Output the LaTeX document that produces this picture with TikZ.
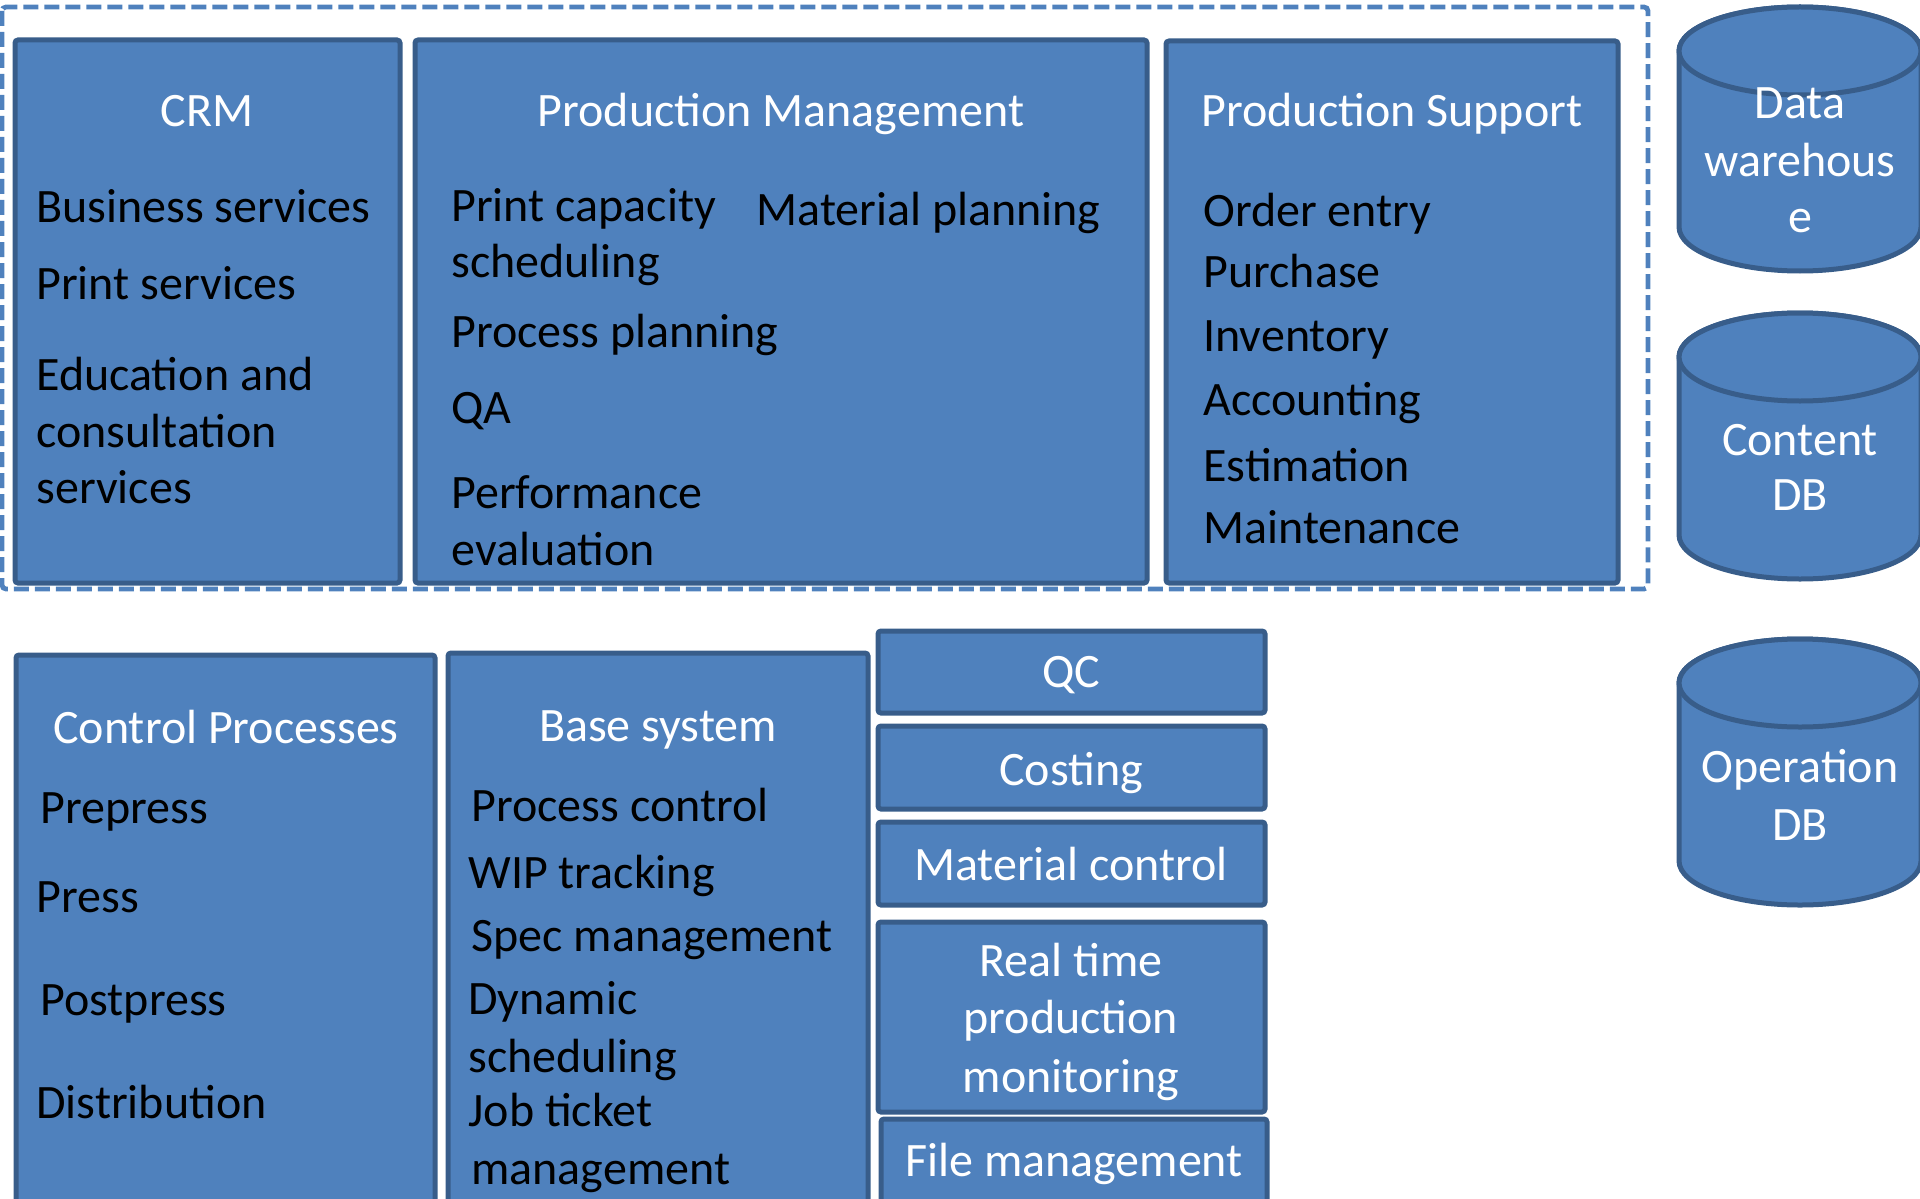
\documentclass[tikz,border=0pt]{standalone}
\usepackage{fontspec}
\setmainfont{Carlito}
\usetikzlibrary{fit}
\definecolor{boxfill}{HTML}{4F81BD}
\definecolor{boxline}{HTML}{385D8A}
\tikzset{
  box/.style={draw=boxline, fill=boxfill, line width=2.5pt, rounded corners=1.5pt, inner sep=0pt},
  frame/.style={draw=boxfill, line width=2.4pt, dash pattern=on 7.5pt off 3pt, rounded corners=2pt},
  cyl/.style={draw=boxline, fill=boxfill, line width=2.5pt},
  bodytxt/.style={anchor=base west, inner sep=0pt, text=black, font=\fontsize{24}{28}\selectfont},
  headtxt/.style={anchor=base, inner sep=0pt, text=white, font=\fontsize{24}{28}\selectfont},
}
\begin{document}
\begin{tikzpicture}[x=0.5pt, y=-0.5pt]
\useasboundingbox (0,0) rectangle (1920,1198);
\clip (0,0) rectangle (1920,1198);

% dashed frame
\draw[frame] (2,7) rectangle (1648,589);

% boxes
\node[box, fit={(15,40) (400,583)}] (crm) {};
\node[box, fit={(415,40) (1147,583)}] (pm) {};
\node[box, fit={(1166,41) (1618,583)}] (ps) {};
\node[box, fit={(16,655) (435,1215)}] (cp) {};
\node[box, fit={(448,653) (868,1215)}] (bs) {};
\node[box, fit={(878,631) (1265,713)}] (qc) {};
\node[box, fit={(878,726) (1265,809)}] (cost) {};
\node[box, fit={(878,822) (1265,905)}] (mc) {};
\node[box, fit={(878,922) (1265,1112)}] (rt) {};
\node[box, fit={(881,1119) (1267,1215)}] (fm) {};

% cylinders
\foreach \t/\b in {51/227, 357/535, 683/861}{
  \draw[cyl] (1679,\t) -- (1679,\b) arc[start angle=180, end angle=360, x radius=60.5pt, y radius=22pt] -- (1921,\t) arc[start angle=0, end angle=180, x radius=60.5pt, y radius=22pt] -- cycle;
  \draw[cyl] (1800,\t) ellipse [x radius=60.5pt, y radius=22pt];
}

% headers
\node[headtxt] (crmh) at (207,127) {CRM};
\node[headtxt] (pmh) at (781,127) {Production Management};
\node[headtxt] (psh) at (1392,127) {Production Support};
\node[headtxt] (cph) at (226,743) {Control Processes};
\node[headtxt] (bsh) at (658,741) {Base system};
\node[headtxt] (qct) at (1071,687) {QC};
\node[headtxt] (costt) at (1071,785) {Costing};
\node[headtxt] (mct) at (1071,880) {Material control};
\node[headtxt] (rt1) at (1071,976) {Real time};
\node[headtxt] (rt2) at (1071,1033) {production};
\node[headtxt] (rt3) at (1071,1092) {monitoring};
\node[headtxt] (fmt) at (1074,1176) {File management};
\node[headtxt] (dw1) at (1800,119) {Data};
\node[headtxt] (dw2) at (1800,177) {warehous};
\node[headtxt] (dw3) at (1800,233) {e};
\node[headtxt] (cd1) at (1800,455) {Content};
\node[headtxt] (cd2) at (1800,510) {DB};
\node[headtxt] (od1) at (1800,782) {Operation};
\node[headtxt] (od2) at (1800,840) {DB};

% CRM body
\node[bodytxt] (c1) at (36,223) {Business services};
\node[bodytxt] (c2) at (36,299) {Print services};
\node[bodytxt] (c3) at (36,390) {Education and};
\node[bodytxt] (c4) at (36,447) {consultation};
\node[bodytxt] (c5) at (36,503) {services};

% Production Management body
\node[bodytxt] (p1) at (451,221) {Print capacity};
\node[bodytxt] (p2) at (451,278) {scheduling};
\node[bodytxt] (p3) at (451,347) {Process planning};
\node[bodytxt] (p4) at (451,423) {QA};
\node[bodytxt] (p5) at (451,508) {Performance};
\node[bodytxt] (p6) at (451,565) {evaluation};
\node[bodytxt] (p7) at (756,226) {Material planning};

% Production Support body
\node[bodytxt] (s1) at (1203,227) {Order entry};
\node[bodytxt] (s2) at (1203,287) {Purchase};
\node[bodytxt] (s3) at (1203,351) {Inventory};
\node[bodytxt] (s4) at (1203,415) {Accounting};
\node[bodytxt] (s5) at (1203,481) {Estimation};
\node[bodytxt] (s6) at (1203,543) {Maintenance};

% Control Processes body
\node[bodytxt] (k1) at (40,823) {Prepress};
\node[bodytxt] (k2) at (36,912) {Press};
\node[bodytxt] (k3) at (40,1015) {Postpress};
\node[bodytxt] (k4) at (36,1118) {Distribution};

% Base system body
\node[bodytxt] (b1) at (471,821) {Process control};
\node[bodytxt] (b2) at (468,888) {WIP tracking};
\node[bodytxt] (b3) at (471,951) {Spec management};
\node[bodytxt] (b4) at (468,1014) {Dynamic};
\node[bodytxt] (b5) at (468,1072) {scheduling};
\node[bodytxt] (b6) at (468,1126) {Job ticket};
\node[bodytxt] (b7) at (471,1184) {management};
\end{tikzpicture}
\end{document}
